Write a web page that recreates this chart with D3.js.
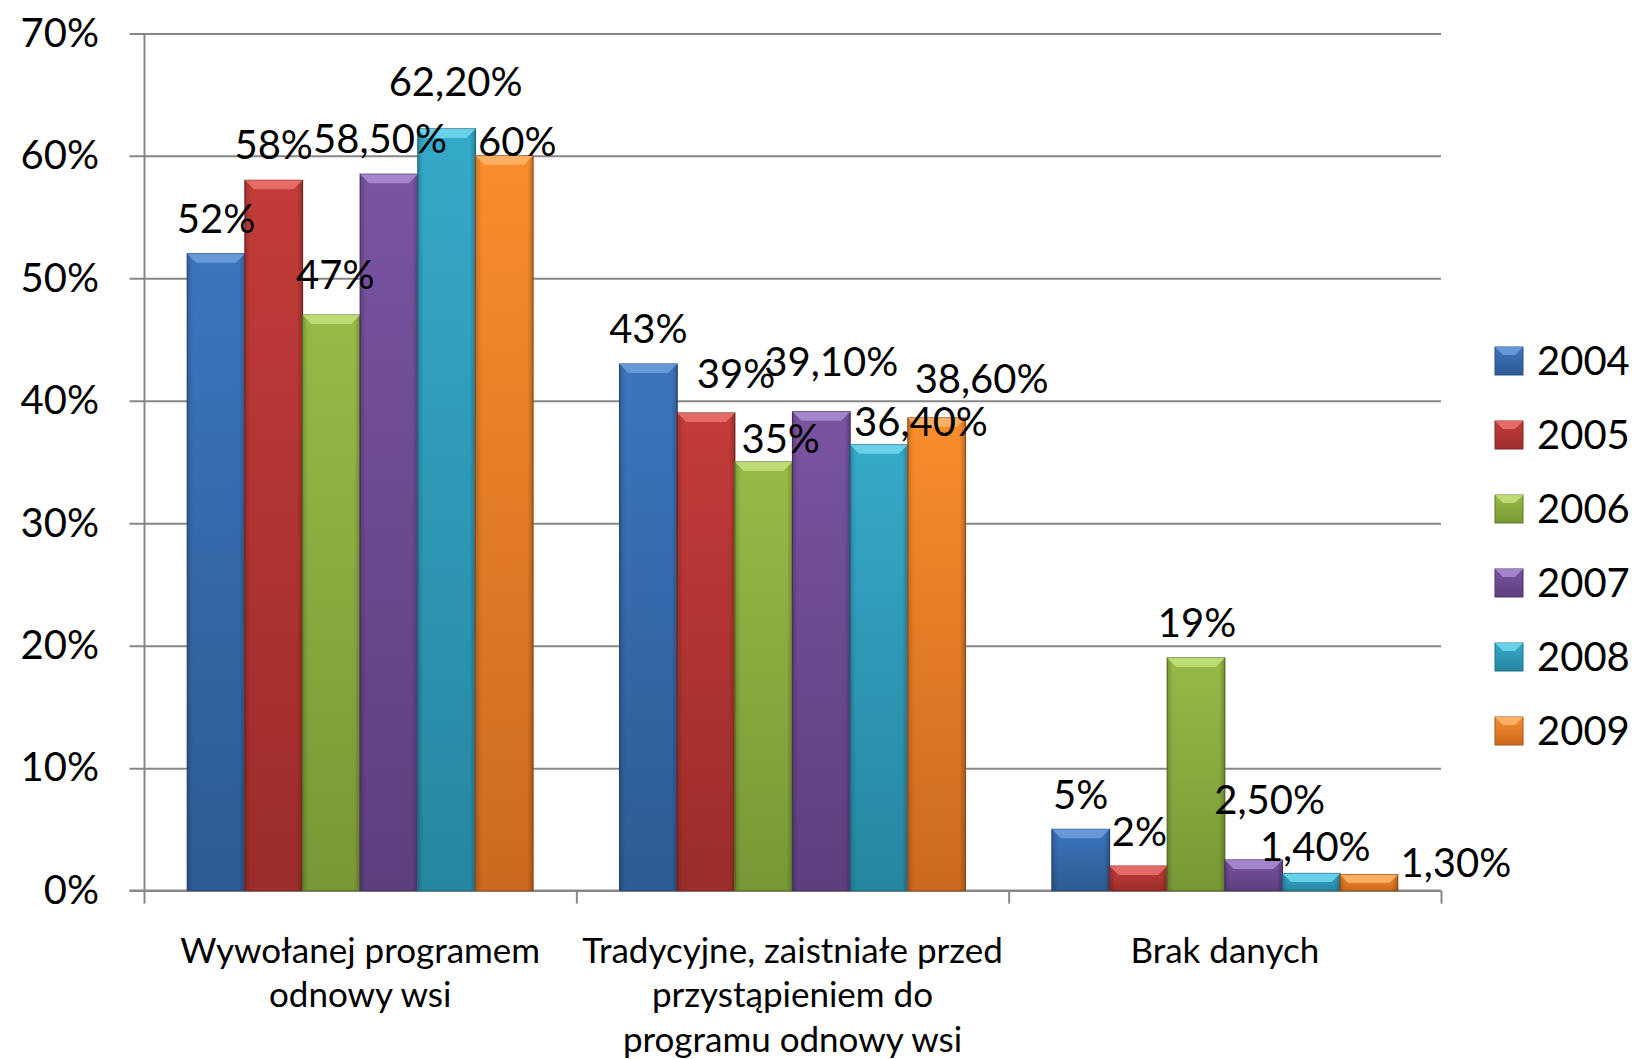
<!DOCTYPE html>
<html>
<head>
<meta charset="utf-8">
<script src="https://cdn.jsdelivr.net/npm/d3@7"></script>
<style>
  body { margin: 0; background: #fff; }
  text { font-family: Lato, "Open Sans", sans-serif; fill: #000; }
</style>
</head>
<body>
<div id="chart"></div>
<script>
// Data
var categories = [
  ["Wywołanej programem", "odnowy wsi"],
  ["Tradycyjne, zaistniałe przed", "przystąpieniem do", "programu odnowy wsi"],
  ["Brak danych"]
];
var years = ["2004", "2005", "2006", "2007", "2008", "2009"];
var values = [
  [0.52, 0.58, 0.47, 0.585, 0.622, 0.60],
  [0.43, 0.39, 0.35, 0.391, 0.364, 0.386],
  [0.05, 0.02, 0.19, 0.025, 0.014, 0.013]
];
var valueLabels = [
  ["52%", "58%", "47%", "58,50%", "62,20%", "60%"],
  ["43%", "39%", "35%", "39,10%", "36,40%", "38,60%"],
  ["5%", "2%", "19%", "2,50%", "1,40%", "1,30%"]
];
var yTicks = [0, 0.1, 0.2, 0.3, 0.4, 0.5, 0.6, 0.7];

// labels were dragged around by hand in the original, so keep the nudges
var labelNudge = [
  [[0, 0], [0, -1], [4, -5], [-9, -1], [9, -12], [13, 21]],
  [[0, 0], [30, -4], [17, 12], [10, -15], [42, 12], [45, -4]],
  [[0, 0], [1, 0], [1, 0], [16, -25], [4, 8], [87, 23]]
];

// colours: top, bottom, stroke, bevel
var colors = [
  ["#3d75bd", "#2d5b94", "#2a4f7f", "#6f9fdc"],
  ["#c33c39", "#9b2d2b", "#862725", "#ea736f"],
  ["#96ba47", "#779835", "#5e7829", "#c6e27d"],
  ["#7a54a1", "#5d3f7e", "#4c3467", "#ab8dd2"],
  ["#35a9c9", "#2787a2", "#20708a", "#72d8f0"],
  ["#f88d2d", "#cb691e", "#a4541a", "#ffb66d"]
];

var W = 1637, H = 1059;
var plot = {left: 144, right: 1441, top: 33.4, bottom: 890.6};

var svg = d3.select("#chart").append("svg")
    .attr("width", W)
    .attr("height", H);

var defs = svg.append("defs");
colors.forEach(function(c, i) {
  var g = defs.append("linearGradient")
      .attr("id", "grad" + i)
      .attr("x1", 0).attr("y1", 0).attr("x2", 0).attr("y2", 1);
  g.append("stop").attr("offset", "0%").attr("stop-color", c[0]);
  g.append("stop").attr("offset", "100%").attr("stop-color", c[1]);
});
var side = defs.append("linearGradient")
    .attr("id", "side")
    .attr("x1", 0).attr("y1", 0).attr("x2", 1).attr("y2", 0);
side.append("stop").attr("offset", "0%").attr("stop-color", "#000").attr("stop-opacity", 0.18);
side.append("stop").attr("offset", "10%").attr("stop-color", "#000").attr("stop-opacity", 0);
side.append("stop").attr("offset", "90%").attr("stop-color", "#000").attr("stop-opacity", 0);
side.append("stop").attr("offset", "100%").attr("stop-color", "#000").attr("stop-opacity", 0.22);

// scales
var y = d3.scaleLinear()
    .domain([0, 0.7])
    .range([plot.bottom, plot.top]);

var x0 = d3.scaleBand()
    .domain(d3.range(categories.length))
    .range([plot.left, plot.right])
    .paddingInner(0)
    .paddingOuter(0);

// gap width 150% -> 0.75 bar on each side
var barW = x0.bandwidth() / (years.length + 1.5);
var x1 = d3.scaleBand()
    .domain(d3.range(years.length))
    .range([0.75 * barW, x0.bandwidth() - 0.75 * barW]);

// grid lines
svg.append("g")
    .attr("transform", "translate(129.5,0)")
    .call(d3.axisRight(y).tickValues(yTicks).tickSize(plot.right - 129.5).tickFormat(""))
    .call(function(g) {
      g.select(".domain").remove();
      g.selectAll("line").attr("stroke", "#878787").attr("stroke-width", 2);
    });

// y axis labels
svg.append("g")
    .attr("transform", "translate(" + plot.left + ",0)")
    .call(d3.axisLeft(y).tickValues(yTicks).tickSize(0).tickPadding(45)
      .tickFormat(function(d) { return Math.round(d * 100) + "%"; }))
    .call(function(g) {
      g.select(".domain").attr("stroke", "#878787").attr("stroke-width", 2);
      g.selectAll("text").attr("font-family", "Lato").attr("font-size", 40).attr("fill", "#000");
    });

// x axis with ticks between categories
var xTick = d3.scaleLinear().domain([0, 3]).range([plot.left, plot.right]);
svg.append("g")
    .attr("transform", "translate(0," + plot.bottom + ")")
    .call(d3.axisBottom(xTick).tickValues([0, 1, 2, 3]).tickSize(13).tickSizeOuter(0).tickFormat(""))
    .call(function(g) {
      g.select(".domain").remove();
      g.selectAll("line").attr("stroke", "#878787").attr("stroke-width", 2);
    });
svg.append("line")
    .attr("x1", 129.5).attr("x2", plot.right)
    .attr("y1", plot.bottom).attr("y2", plot.bottom)
    .attr("stroke", "#878787").attr("stroke-width", 2);

// flat list of bars
var flat = [];
values.forEach(function(row, ci) {
  row.forEach(function(v, si) { flat.push({v: v, s: si, c: ci}); });
});

function barX(d) { return x0(d.c) + x1(d.s); }

var bars = svg.append("g").selectAll(".bar")
    .data(flat)
    .enter().append("g")
    .attr("class", "bar");

bars.append("rect")
    .attr("x", barX)
    .attr("y", function(d) { return y(d.v); })
    .attr("width", x1.bandwidth())
    .attr("height", function(d) { return y(0) - y(d.v); })
    .attr("fill", function(d) { return "url(#grad" + d.s + ")"; })
    .attr("stroke", function(d) { return colors[d.s][2]; })
    .attr("stroke-width", 1.2);

bars.append("rect")
    .attr("x", barX)
    .attr("y", function(d) { return y(d.v); })
    .attr("width", x1.bandwidth())
    .attr("height", function(d) { return y(0) - y(d.v); })
    .attr("fill", "url(#side)");

// top bevel
bars.append("path")
    .attr("d", function(d) {
      var xl = barX(d), xr = xl + x1.bandwidth(), yt = y(d.v);
      var h = Math.min(9, (y(0) - yt) / 2);
      return "M" + xl + "," + yt + "L" + xr + "," + yt +
        "L" + (xr - h) + "," + (yt + h) + "L" + (xl + h) + "," + (yt + h) + "Z";
    })
    .attr("fill", function(d) { return colors[d.s][3]; })
    .attr("opacity", 0.85);

// value labels, drawn above all bars
svg.append("g").selectAll(".vlabel")
    .data(flat)
    .enter().append("text")
    .attr("class", "vlabel")
    .attr("x", function(d) { return barX(d) + x1.bandwidth() / 2 + labelNudge[d.c][d.s][0]; })
    .attr("y", function(d) { return y(d.v) - 35 + labelNudge[d.c][d.s][1]; })
    .attr("dy", "0.36em")
    .attr("text-anchor", "middle")
    .attr("font-size", 40)
    .text(function(d) { return valueLabels[d.c][d.s]; });

// category labels
svg.selectAll(".catlabel")
    .data(categories)
    .enter().append("text")
    .attr("class", "catlabel")
    .attr("text-anchor", "middle")
    .attr("font-size", 35)
    .each(function(lines, i) {
      var t = d3.select(this);
      lines.forEach(function(l, j) {
        t.append("tspan")
          .attr("x", x0(i) + x0.bandwidth() / 2)
          .attr("y", 950 + j * 44.5)
          .attr("dy", "0.36em")
          .text(l);
      });
    });

// legend
var legend = svg.append("g")
    .attr("transform", "translate(1495,361)");
var item = legend.selectAll(".item")
    .data(years)
    .enter().append("g")
    .attr("class", "item")
    .attr("transform", function(d, i) { return "translate(0," + (i * 74) + ")"; });
item.append("rect")
    .attr("x", 0).attr("y", -14)
    .attr("width", 28).attr("height", 28)
    .attr("fill", function(d, i) { return "url(#grad" + i + ")"; })
    .attr("stroke", function(d, i) { return colors[i][2]; });
item.append("path")
    .attr("d", "M0,-14L28,-14L20,-6L8,-6Z")
    .attr("fill", function(d, i) { return colors[i][3]; })
    .attr("opacity", 0.85);
item.append("text")
    .attr("x", 42)
    .attr("dy", "0.36em")
    .attr("font-size", 40)
    .text(function(d) { return d; });
</script>
</body>
</html>
